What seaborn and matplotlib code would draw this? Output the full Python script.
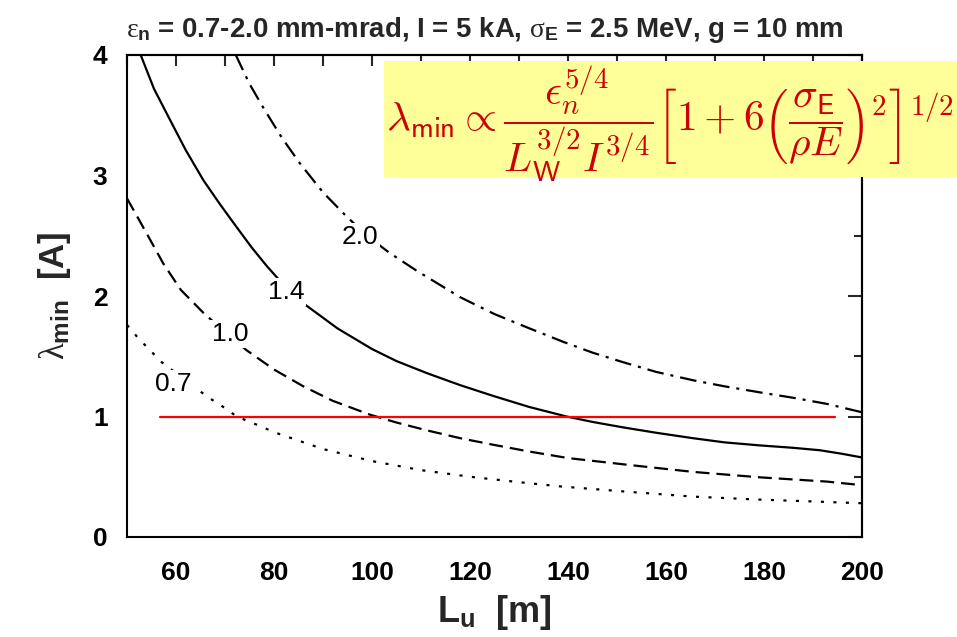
import numpy as np
import pandas as pd
import matplotlib
matplotlib.use("Agg")
import matplotlib.pyplot as plt
import seaborn as sns
from matplotlib.patches import Rectangle
from matplotlib.ticker import MultipleLocator

# ---------------- data ----------------
L_07 = [50, 52.3, 54.7, 57.1, 60, 63.5, 67.3, 70, 72.4, 77.5, 80, 90, 100, 110, 120, 130, 138.4, 152, 165.6, 179.2, 190, 200]
lam_07 = [1.76, 1.65, 1.55, 1.45, 1.36, 1.25, 1.14, 1.07, 1.00, 0.915, 0.87, 0.73, 0.63, 0.555, 0.50, 0.455, 0.42, 0.376, 0.335, 0.31, 0.295, 0.28]

L_10 = [50, 54, 57.4, 61, 65.6, 70, 74.4, 80, 86, 92, 99.6, 105, 111.2, 118, 124.8, 132, 140, 152, 165.6, 179.2, 192.8, 200]
lam_10 = [2.81, 2.52, 2.27, 2.05, 1.86, 1.70, 1.55, 1.39, 1.25, 1.13, 1.015, 0.95, 0.885, 0.82, 0.765, 0.71, 0.655, 0.60, 0.54, 0.495, 0.46, 0.43]

L_14 = [52.8, 55.5, 58.8, 62, 65.6, 69, 72.4, 75.5, 78.5, 82, 86.3, 93, 100, 105, 111.2, 118, 124.8, 132, 139.7, 145, 151.2, 158, 165.5, 172, 179.2, 186, 191.4, 196, 200]
lam_14 = [4.0, 3.72, 3.46, 3.21, 2.96, 2.76, 2.57, 2.40, 2.25, 2.09, 1.93, 1.73, 1.56, 1.46, 1.36, 1.26, 1.17, 1.08, 1.00, 0.955, 0.91, 0.865, 0.82, 0.785, 0.76, 0.74, 0.72, 0.69, 0.66]

L_20 = [72.2, 75, 78, 81.5, 85.3, 90, 94.8, 99, 103.5, 109.1, 118, 125, 131.6, 139, 145, 151.3, 158, 165.6, 172, 179.2, 186, 192.8, 200]
lam_20 = [4.0, 3.76, 3.55, 3.32, 3.10, 2.86, 2.66, 2.50, 2.36, 2.21, 1.99, 1.85, 1.74, 1.62, 1.53, 1.45, 1.37, 1.30, 1.25, 1.20, 1.155, 1.105, 1.035]

red_L = [56.7, 194.5]
red_lam = [1.0, 1.0]

curve_labels = ["0.7", "1.0", "1.4", "2.0"]
label_L = [59.45, 71.0, 82.4, 97.55]
label_lam = [1.27, 1.685, 2.036, 2.487]

xticks = [60, 80, 100, 120, 140, 160, 180, 200]
yticks = [0, 1, 2, 3, 4]

title = (r"$ε_{\mathbf{n}}$ = 0.7-2.0 mm-mrad, I = 5 kA, "
         r"$σ_{\mathbf{E}}$ = 2.5 MeV, g = 10 mm")
formula = (r"$\lambda_{\mathsf{min}} \propto \dfrac{\epsilon_n^{5/4}}{L_{\mathsf{W}}^{3/2}I^{3/4}}"
           r"\left[1+6\left(\dfrac{\sigma_{\mathsf{E}}}{\rho E}\right)^2\right]^{1/2}$")

# ---------------- style ----------------
sns.set_style("white")
plt.rcParams.update({
    "font.family": ["Liberation Sans", "DejaVu Sans"],
    "mathtext.fontset": "custom",
    "mathtext.rm": "Liberation Sans:bold",
    "mathtext.bf": "Liberation Sans:bold",
    "mathtext.it": "Liberation Serif",
    "mathtext.sf": "Liberation Sans",
    "lines.scale_dashes": False,
    "axes.linewidth": 1.5,
    "axes.edgecolor": "black",
})

W, H = 957, 637
fig = plt.figure(figsize=(W / 100, H / 100), dpi=100)
ax = fig.add_axes([127 / W, 100 / H, 735 / W, 482 / H])

lw = 1.6
series = [
    (L_07, lam_07, (0, (2.2, 6.8))),
    (L_10, lam_10, (0, (10, 5))),
    (L_14, lam_14, "-"),
    (L_20, lam_20, (0, (12, 5, 2.2, 5))),
]
for xs, ys, ls in series:
    df = pd.DataFrame({"L": xs, "lam": ys})
    sns.lineplot(data=df, x="L", y="lam", ax=ax, color="black", lw=lw,
                 linestyle=ls, estimator=None, sort=True)

sns.lineplot(x=red_L, y=red_lam, ax=ax, color="#FF0000", lw=1.6, estimator=None)

for t, lx, ly in zip(curve_labels, label_L, label_lam):
    ax.text(lx, ly, t, ha="center", va="center", fontsize=19, color="black",
            bbox=dict(facecolor="white", edgecolor="none", pad=1.5), zorder=5)

ax.set_xlim(50, 200)
ax.set_ylim(0, 4)
ax.set_xticks(xticks)
ax.set_yticks(yticks)
ax.xaxis.set_minor_locator(MultipleLocator(10))
ax.yaxis.set_minor_locator(MultipleLocator(0.5))
ax.tick_params(which="major", direction="out", length=10, width=1.5,
               labelsize=19, colors="black")
ax.tick_params(axis="x", which="major", pad=7)
ax.tick_params(axis="y", which="major", pad=4)
ax.tick_params(which="minor", direction="out", length=5, width=1.5)
for lbl in ax.get_xticklabels() + ax.get_yticklabels():
    lbl.set_fontweight("bold")

top = ax.secondary_xaxis("top")
top.xaxis.set_major_locator(MultipleLocator(10))
top.tick_params(direction="in", length=8, width=1.5, labeltop=False)
right = ax.secondary_yaxis("right")
right.yaxis.set_major_locator(MultipleLocator(1))
right.yaxis.set_minor_locator(MultipleLocator(0.5))
right.tick_params(which="major", direction="in", length=10, width=1.5, labelright=False)
right.tick_params(which="minor", direction="in", length=6, width=1.5)

ax.set_xlabel(r"$\mathbf{L}_{\mathbf{u}}$  [m]", fontsize=26, fontweight="bold", labelpad=6)
ax.set_ylabel(r"$\lambda_{\mathbf{min}}$  [A]", fontsize=25, fontweight="bold", labelpad=14)

tt = fig.text(485 / W, 1 - 37 / H, title, ha="center", va="baseline",
              fontsize=16, fontweight="bold", math_fontfamily="custom")

# formula box
rect = Rectangle((384 / W, 1 - 177 / H), (W - 384) / W + 0.02, (177 - 61) / H,
                 transform=fig.transFigure, facecolor="#FFFF99", edgecolor="none", zorder=3)
fig.add_artist(rect)
ft = fig.text(386 / W, 1 - 125 / H, formula, ha="left", va="center", color="#CC0000",
              fontsize=24, math_fontfamily="cm", zorder=4)
fig.canvas.draw()
rend = fig.canvas.get_renderer()
w = ft.get_window_extent(renderer=rend).width
ft.set_fontsize(24 * 569 / w)
wt = tt.get_window_extent(renderer=rend).width
tt.set_fontsize(16 * 720 / wt)

fig.savefig("out.png", dpi=100, facecolor="white")
